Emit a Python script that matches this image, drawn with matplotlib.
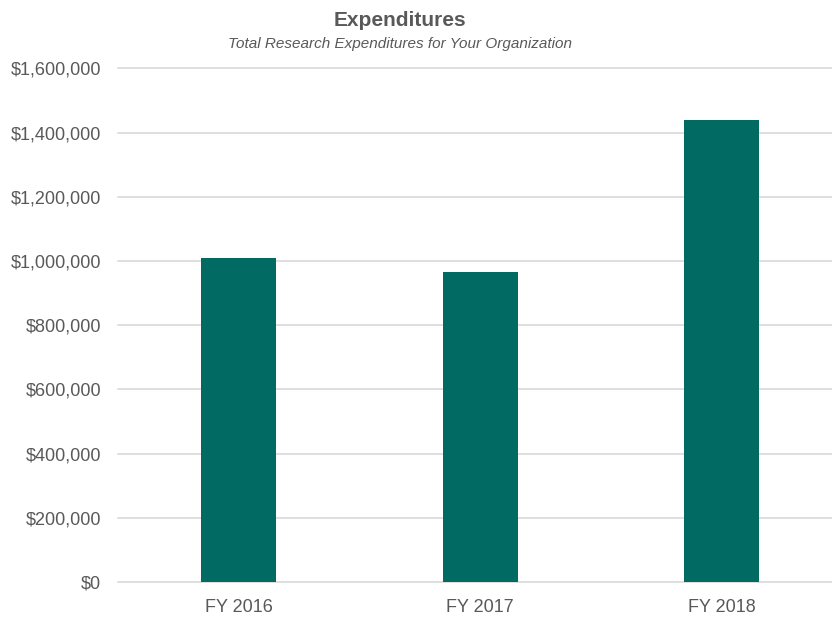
import matplotlib.pyplot as plt
from matplotlib.ticker import FuncFormatter

# Data
years = ["FY 2016", "FY 2017", "FY 2018"]
expenditures = [1010000, 966000, 1440000]

plt.rcParams["font.family"] = ["Liberation Sans", "DejaVu Sans"]
text_grey = "#595959"

fig = plt.figure(figsize=(8.32, 6.19), dpi=100)
ax = fig.add_axes([118 / 832, 1 - 582 / 619, 3 * 241.5 / 832, (582 - 68.5) / 619])

x = range(len(years))
ax.bar(x, expenditures, width=0.31, color="#006A63", zorder=3)

ax.set_xlim(-0.5, 2.5)
ax.set_ylim(0, 1600000)
ax.set_yticks(range(0, 1600001, 200000))
ax.yaxis.set_major_formatter(FuncFormatter(lambda v, p: f"${v:,.0f}"))
ax.set_xticks(list(x))
ax.set_xticklabels(years)

ax.grid(axis="y", color="#D9D9D9", linewidth=1.2, zorder=0)
for line in ax.get_ygridlines():
    line.set_clip_on(False)
for side in ["top", "right", "left", "bottom"]:
    ax.spines[side].set_visible(False)
ax.tick_params(axis="both", length=0, labelsize=13, colors=text_grey)
ax.tick_params(axis="y", pad=12)
ax.tick_params(axis="x", pad=12)

fig.text(400 / 832, 1 - 20 / 619, "Expenditures", ha="center", va="center",
         fontsize=15, fontweight="bold", color=text_grey)
fig.text(400 / 832, 1 - 44 / 619, "Total Research Expenditures for Your Organization",
         ha="center", va="center", fontsize=11, style="italic", color=text_grey)

fig.savefig("out.png", dpi=100)
plt.close()
